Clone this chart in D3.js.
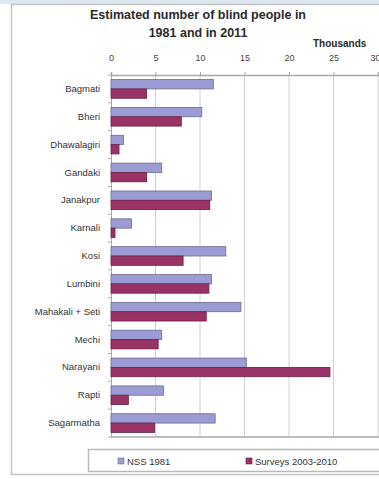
<!DOCTYPE html>
<html>
<head>
<meta charset="utf-8">
<script src="https://cdn.jsdelivr.net/npm/d3@7"></script>
<style>
  html, body { margin: 0; padding: 0; background: #ffffff; }
  svg { display: block; font-family: "Liberation Sans", Arial, sans-serif; }
</style>
</head>
<body>
<svg id="chart" width="379" height="479"></svg>
<script>
// Regions of Nepal, top to bottom
const categories = ["Bagmati", "Bheri", "Dhawalagiri", "Gandaki", "Janakpur", "Karnali",
  "Kosi", "Lumbini", "Mahakali + Seti", "Mechi", "Narayani", "Rapti", "Sagarmatha"];

// Estimated blind people, thousands
const nss1981 = [11.5, 10.2, 1.4, 5.7, 11.3, 2.3, 12.9, 11.3, 14.6, 5.7, 15.2, 5.9, 11.7];
const surveys2003_2010 = [4.0, 7.9, 0.9, 4.0, 11.1, 0.45, 8.1, 11.0, 10.7, 5.3, 24.6, 1.95, 4.9];

const seriesNames = ["NSS 1981", "Surveys 2003-2010"];
const seriesColors = ["#9c9cd4", "#993366"];
const seriesStrokes = ["#6a6a99", "#6b1f45"];
const tickValues = [0, 5, 10, 15, 20, 25, 30];
const titleLines = ["Estimated number of blind people in", "1981 and in 2011"];
const unitLabel = "Thousands";

const svg = d3.select("#chart");

// Outer frame
svg.append("rect").attr("x", 0).attr("y", 0).attr("width", 379).attr("height", 4)
  .attr("fill", "#dde7ef");
svg.append("rect").attr("x", 11.5).attr("y", 4.5).attr("width", 380).attr("height", 470)
  .attr("fill", "#ffffff").attr("stroke", "#c4c4c4").attr("stroke-width", 1.5);

const plot = { left: 111, right: 378, top: 75, bottom: 437 };

const x = d3.scaleLinear().domain([0, 30]).range([plot.left, plot.right]);
const y = d3.scaleBand().domain(categories).range([plot.top, plot.bottom])
  .paddingInner(0.33).paddingOuter(0.165);
const ySub = d3.scaleBand().domain(seriesNames).range([0, y.bandwidth()]);

// Vertical gridlines
svg.append("g").selectAll("line").data(tickValues.slice(1)).join("line")
  .attr("x1", d => x(d)).attr("x2", d => x(d))
  .attr("y1", plot.top).attr("y2", plot.bottom)
  .attr("stroke", "#d0d0d0").attr("stroke-width", 1);

// Top value axis
const topAxis = svg.append("g").attr("transform", `translate(0,${plot.top})`)
  .call(d3.axisTop(x).tickValues(tickValues).tickSize(3).tickPadding(11));
topAxis.select(".domain").attr("stroke", "#a8a8a8").attr("stroke-width", 1.5);
topAxis.selectAll(".tick line").attr("stroke", "#a8a8a8");
topAxis.selectAll(".tick text").attr("fill", "#444").attr("font-size", "9px")
  .attr("font-family", "Liberation Sans, Arial, sans-serif");
// the last label sits at the right edge of the frame, so keep it inside
topAxis.selectAll(".tick text").filter(d => d === 30).attr("text-anchor", "end").attr("dx", 2);

// Bottom edge of the plot
svg.append("line").attr("x1", plot.left).attr("x2", plot.right + 2)
  .attr("y1", plot.bottom).attr("y2", plot.bottom)
  .attr("stroke", "#a8a8a8").attr("stroke-width", 1.5);

// Category axis
const leftAxis = svg.append("g").attr("transform", `translate(${plot.left},0)`)
  .call(d3.axisLeft(y).tickSize(0).tickPadding(11));
leftAxis.select(".domain").attr("stroke", "#a8a8a8");
leftAxis.selectAll(".tick text").attr("fill", "#333").attr("font-size", "9.5px")
  .attr("font-family", "Liberation Sans, Arial, sans-serif");
// tick marks between categories
const step = y.step();
svg.append("g").selectAll("line").data(d3.range(categories.length + 1)).join("line")
  .attr("x1", plot.left - 3).attr("x2", plot.left)
  .attr("y1", i => plot.top + i * step).attr("y2", i => plot.top + i * step)
  .attr("stroke", "#a8a8a8");

// Bars
const seriesData = [nss1981, surveys2003_2010];
seriesData.forEach((vals, si) => {
  svg.append("g").selectAll("rect").data(categories).join("rect")
    .attr("x", x(0))
    .attr("y", (c) => y(c) + ySub(seriesNames[si]))
    .attr("width", (c, i) => x(vals[i]) - x(0))
    .attr("height", ySub.bandwidth())
    .attr("fill", seriesColors[si])
    .attr("stroke", seriesStrokes[si])
    .attr("stroke-width", 0.8);
});

// Title
svg.append("g").selectAll("text").data(titleLines).join("text")
  .attr("x", 198).attr("y", (d, i) => 19 + i * 18)
  .attr("text-anchor", "middle")
  .attr("font-size", "12.5px").attr("font-weight", "bold").attr("fill", "#2a2a2a")
  .text(d => d);

svg.append("text").attr("x", 313).attr("y", 47)
  .attr("font-size", "10px").attr("font-weight", "bold").attr("fill", "#2a2a2a")
  .text(unitLabel);

// Legend
svg.append("rect").attr("x", 88.5).attr("y", 449.5).attr("width", 300).attr("height", 22)
  .attr("fill", "#ffffff").attr("stroke", "#b8b8b8").attr("stroke-width", 1.5);
const legendX = [118, 246];
const legend = svg.append("g").selectAll("g").data(seriesNames).join("g")
  .attr("transform", (d, i) => `translate(${legendX[i]},461)`);
legend.append("rect").attr("x", 0).attr("y", -3).attr("width", 6).attr("height", 6)
  .attr("fill", (d, i) => seriesColors[i]).attr("stroke", (d, i) => seriesStrokes[i])
  .attr("stroke-width", 0.6);
legend.append("text").attr("x", 9).attr("y", 3.5)
  .attr("font-size", "9.5px").attr("fill", "#333").text(d => d);
</script>
</body>
</html>
